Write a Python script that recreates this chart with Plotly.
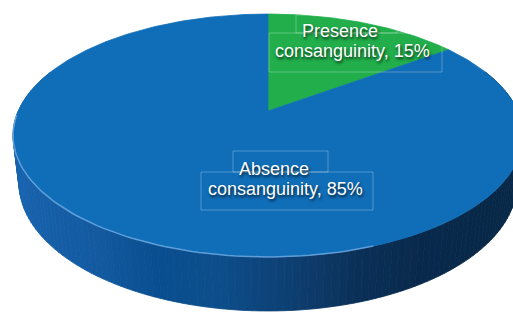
import numpy as np
import plotly.graph_objects as go

# ---------------- data ----------------
categories = ["Presence consanguinity", "Absence consanguinity"]
values = [15, 85]
slice_colors = ["#21AE4B", "#106EB8"]

# ---------------- 3D pie projection (camera model) ----------------
W, HGT = 513, 312
CX, CY = 268.0, 111.0          # screen position of the pie centre
F = 1095.5                      # focal length (px)
L = 4.387                       # camera distance (in pie radii)
SIN_A = 0.4666
ALPHA = np.arcsin(SIN_A)
COS_A = np.cos(ALPHA)
THICK = 0.2162                  # pie thickness (in radii)


def project(theta, y):
    """theta: clockwise angle from far point; y: 0 top face, -THICK bottom."""
    X = np.sin(theta)
    Z = np.cos(theta)
    depth = L - y * SIN_A + Z * COS_A
    u = CX + F * X / depth
    v = CY - F * (y * COS_A + Z * SIN_A) / depth
    return u, v


# side shading stops (screen x -> colour)
shade_x = [13, 100, 160, 220, 300, 360, 420, 513]
shade_rgb = [(24, 100, 175), (19, 90, 160), (9, 78, 143), (13, 78, 140),
             (14, 62, 110), (11, 48, 88), (9, 42, 76), (8, 40, 72)]


def shade(x):
    r = np.interp(x, shade_x, [c[0] for c in shade_rgb])
    g = np.interp(x, shade_x, [c[1] for c in shade_rgb])
    b = np.interp(x, shade_x, [c[2] for c in shade_rgb])
    return f"rgb({int(r)},{int(g)},{int(b)})"


fig = go.Figure()

# ---- side wall (painter's order, far first) ----
N = 240
th = np.linspace(0, 2 * np.pi, N + 1)
quads = []
for i in range(N):
    t0, t1 = th[i], th[i + 1]
    zmid = np.cos((t0 + t1) / 2)
    if zmid > 0.35:
        continue
    ut0, vt0 = project(t0, 0)
    ut1, vt1 = project(t1, 0)
    ub1, vb1 = project(t1, -THICK)
    ub0, vb0 = project(t0, -THICK)
    quads.append((zmid, [ut0, ut1, ub1, ub0, ut0], [vt0, vt1, vb1, vb0, vt0]))
quads.sort(key=lambda q: -q[0])
for zmid, xs, ys in quads:
    col = shade(np.mean(xs))
    fig.add_trace(go.Scatter(x=xs, y=ys, mode="lines", fill="toself",
                             fillcolor=col, line=dict(color=col, width=0.8),
                             hoverinfo="skip", showlegend=False))

# ---- top face slices ----
total = sum(values)
start = 0.0
for cat, val, col in zip(categories, values, slice_colors):
    end = start + val / total * 2 * np.pi
    tt = np.linspace(start, end, max(int(val * 4), 20))
    ua, va = project(tt, 0)
    xs = np.concatenate([[CX], ua, [CX]])
    ys = np.concatenate([[CY], va, [CY]])
    fig.add_trace(go.Scatter(x=xs, y=ys, mode="lines", fill="toself",
                             fillcolor=col, line=dict(color=col, width=0.8),
                             name=cat, hoverinfo="name", showlegend=False))
    start = end

# ---- rim highlight on front edge ----
tr = np.linspace(np.radians(160), np.radians(268), 80)
ur, vr = project(tr, 0)
fig.add_trace(go.Scatter(x=ur, y=vr, mode="lines",
                         line=dict(color="rgba(120,175,230,0.75)", width=1.5),
                         hoverinfo="skip", showlegend=False))

# ---------------- labels ----------------
font = dict(family="Liberation Sans, Arial, sans-serif", size=18,
            color="white", shadow="1px 2px 3px rgba(0,0,0,0.75)")
label_lines = [(cat.split(" ")[0], cat.split(" ", 1)[1] + f", {v}%")
               for cat, v in zip(categories, values)]
label_pos = [((339.5, 31.0), (352.0, 51.0)), ((273.5, 168.5), (285.5, 189.0))]
label_boxes = [((296, 15, 397, 33), (269, 33, 442, 72)),
               ((233, 151, 328, 172), (201, 172, 373, 210))]

annotations = []
shapes = []
for (l1, l2), (p1, p2), (b1, b2) in zip(label_lines, label_pos, label_boxes):
    for txt, (px, py) in ((l1, p1), (l2, p2)):
        annotations.append(dict(x=px, y=py, xref="x", yref="y", text=txt,
                                showarrow=False, font=font, borderpad=0,
                                xanchor="center", yanchor="middle"))
    for (x0, y0, x1, y1) in (b1, b2):
        shapes.append(dict(type="rect", xref="x", yref="y", x0=x0, y0=y0,
                           x1=x1, y1=y1,
                           line=dict(color="rgba(255,255,255,0.28)", width=1)))

fig.update_layout(
    width=W, height=HGT, margin=dict(l=0, r=0, t=0, b=0),
    paper_bgcolor="white", plot_bgcolor="white",
    xaxis=dict(range=[0, W], visible=False, fixedrange=True),
    yaxis=dict(range=[HGT, 0], visible=False, fixedrange=True),
    annotations=annotations, shapes=shapes, showlegend=False,
)

fig.write_html("out.html", config={"displayModeBar": False},
               post_script="document.body.style.margin='0';"
                           "document.body.style.overflow='hidden';")
